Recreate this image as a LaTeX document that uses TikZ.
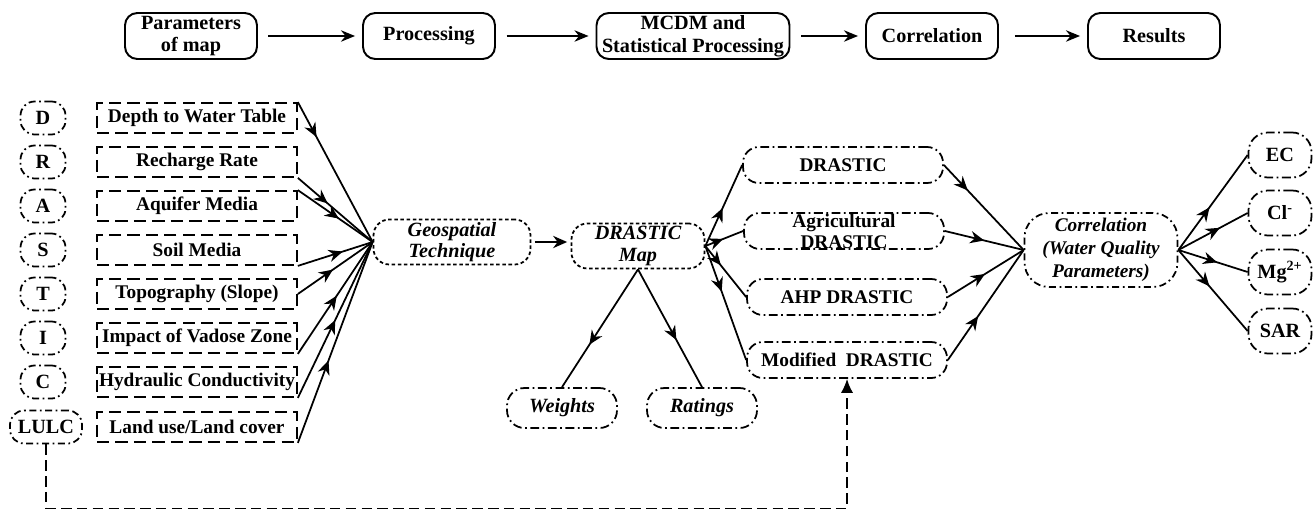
\documentclass[tikz,border=0pt]{standalone}
\usepackage{fontspec}
\setmainfont{Liberation Serif}
\usetikzlibrary{arrows.meta,decorations.markings}
\tikzset{
  topbox/.style={draw,line width=1.1pt,rounded corners=7pt,minimum width=2.64cm,minimum height=0.92cm,
    inner sep=1pt,align=center,font=\fontsize{11.5}{13}\selectfont\bfseries},
  toparrow/.style={line width=1.1pt,-{Stealth[length=8pt,width=6.5pt]},shorten <=6pt,shorten >=4pt},
  letterbox/.style={draw,line width=1pt,rounded corners=8pt,dash pattern=on 4pt off 2pt on 1pt off 2pt,
    minimum width=0.9cm,minimum height=0.66cm,inner sep=1pt,font=\fontsize{11.5}{12}\selectfont\bfseries},
  parambox/.style={draw,line width=1pt,dash pattern=on 7pt off 3.5pt,minimum width=4cm,minimum height=0.6cm,
    inner sep=1pt,font=\fontsize{11}{12}\selectfont\bfseries},
  techbox/.style={draw,line width=1pt,rounded corners=9pt,dash pattern=on 2pt off 1.5pt,minimum height=0.9cm,
    inner sep=0pt,align=center,font=\fontsize{11.5}{12}\selectfont\bfseries\itshape},
  wrbox/.style={draw,line width=1pt,rounded corners=10pt,dash pattern=on 5pt off 2pt on 1pt off 2pt,
    minimum width=2.2cm,minimum height=0.8cm,inner sep=0pt,font=\fontsize{11.5}{12}\selectfont\bfseries\itshape},
  methodbox/.style={draw,line width=1pt,rounded corners=9pt,dash pattern=on 5pt off 2pt on 1pt off 2pt,
    minimum width=4cm,minimum height=0.72cm,inner sep=0pt,align=center,font=\fontsize{11}{12}\selectfont\bfseries},
  corrbox/.style={draw,line width=1pt,rounded corners=14pt,dash pattern=on 4pt off 2pt on 1pt off 2pt,
    minimum width=3.06cm,minimum height=1.48cm,inner sep=0pt,align=center,font=\fontsize{11}{13}\selectfont\bfseries\itshape},
  qualbox/.style={draw,line width=1pt,rounded corners=11pt,dash pattern=on 5pt off 2pt on 1pt off 2pt,
    minimum width=1.26cm,minimum height=0.9cm,inner sep=0pt,font=\fontsize{11.5}{12}\selectfont\bfseries},
  link/.style={line width=1pt},
  midarrow/.style={postaction={decorate},decoration={markings,
    mark=at position #1 with {\arrow{Stealth[length=8pt,width=7pt]}}}},
  midarrow/.default=0.5,
  feedback/.style={line width=1pt,dash pattern=on 6pt off 3pt,-{Latex[length=8pt,width=7pt]}}
}
\begin{document}
\begin{tikzpicture}[x=0.02cm,y=-0.02cm]
\useasboundingbox (0,0) rectangle (1314,510);

\node[topbox] (params) at (191,36) {Parameters\\of map};
\node[topbox] (proc) at (429,36) {Processing};
\node[topbox,minimum width=3.86cm] (mcdm) at (693,36) {MCDM and\\Statistical Processing};
\node[topbox] (corrtop) at (932,36) {Correlation};
\node[topbox] (results) at (1154,36) {Results};
\draw[toparrow] (params) -- (proc);
\draw[toparrow] (proc) -- (mcdm);
\draw[toparrow] (mcdm) -- (corrtop);
\draw[toparrow,shorten <=9pt] (corrtop) -- (results);

\node[letterbox] (d) at (43,118) {D};
\node[letterbox] (r) at (43,162) {R};
\node[letterbox] (a) at (43,206) {A};
\node[letterbox] (s) at (43,250) {S};
\node[letterbox] (t) at (43,294) {T};
\node[letterbox] (i) at (43,338) {I};
\node[letterbox] (c) at (43,382) {C};
\node[letterbox,minimum width=1.44cm] (lulc) at (46,427) {LULC};

\node[parambox] (depth) at (197,118) {Depth to Water Table};
\node[parambox] (recharge) at (197,162) {Recharge Rate};
\node[parambox] (aquifer) at (197,206) {Aquifer Media};
\node[parambox] (soil) at (197,250) {Soil Media};
\node[parambox] (topo) at (197,294) {Topography (Slope)};
\node[parambox] (vadose) at (197,338) {Impact of Vadose Zone};
\node[parambox] (hydro) at (197,382) {Hydraulic Conductivity};
\node[parambox] (landuse) at (197,427) {Land use/Land cover};

\node[techbox,minimum width=3.14cm] (geo) at (452,242) {Geospatial\\Technique};
\node[techbox,minimum width=2.66cm] (map) at (638,246) {DRASTIC\\Map};
\node[wrbox] (weights) at (562,408) {Weights};
\node[wrbox] (ratings) at (702,408) {Ratings};

\draw[link,midarrow=0.25] (depth.north east) -- (geo.west);
\draw[link,midarrow=0.4] (recharge.south east) -- (geo.west);
\draw[link,midarrow=0.55] (aquifer.north east) -- (geo.west);
\draw[link,midarrow=0.6] (soil.south east) -- (geo.west);
\draw[link,midarrow=0.47] (topo.east) -- (geo.west);
\draw[link,midarrow=0.52] (vadose.south east) -- (geo.west);
\draw[link,midarrow=0.5] (hydro.south east) -- (geo.west);
\draw[link,midarrow=0.41] (landuse.south east) -- (geo.west);

\draw[link,-{Stealth[length=8pt,width=7pt]},shorten <=2pt,shorten >=2pt] (geo.east) -- (map.west |- geo.east);
\draw[link,midarrow=0.64] (map.south) -- (weights.north);
\draw[link,midarrow=0.6] (map.south) -- (ratings.north);

\node[methodbox] (drastic) at (843,165) {DRASTIC};
\node[methodbox] (agri) at (844,231) {Agricultural\\DRASTIC};
\node[methodbox] (ahp) at (847,297) {AHP DRASTIC};
\node[methodbox] (modified) at (847,360) {Modified\ \ DRASTIC};

\draw[link,midarrow=0.47] (map.east) -- (drastic.west);
\draw[link,midarrow=0.47] (map.east) -- (agri.west);
\draw[link,midarrow=0.38] (map.east) -- (ahp.west);
\draw[link,midarrow=0.4] (map.east) -- (modified.west);

\node[corrbox] (corr) at (1101,250) {Correlation\\(Water Quality\\Parameters)};
\draw[link,midarrow=0.3] (drastic.east) -- (corr.west);
\draw[link,midarrow=0.5] (agri.east) -- (corr.west);
\draw[link,midarrow=0.49] (ahp.east) -- (corr.west);
\draw[link,midarrow=0.4] (modified.east) -- (corr.west);

\node[qualbox] (ec) at (1280,155) {EC};
\node[qualbox] (cl) at (1280,213) {Cl\textsuperscript{-}};
\node[qualbox] (mg) at (1280,272) {Mg\textsuperscript{2+}};
\node[qualbox] (sar) at (1280,331) {SAR};
\draw[link,midarrow=0.45] (corr.east) -- (ec.west);
\draw[link,midarrow=0.6] (corr.east) -- (cl.west);
\draw[link,midarrow=0.56] (corr.east) -- (mg.west);
\draw[link,midarrow=0.45] (corr.east) -- (sar.west);

\draw[feedback] (lulc.south) -- ++(0,64) -| (modified.south);
\end{tikzpicture}
\end{document}
